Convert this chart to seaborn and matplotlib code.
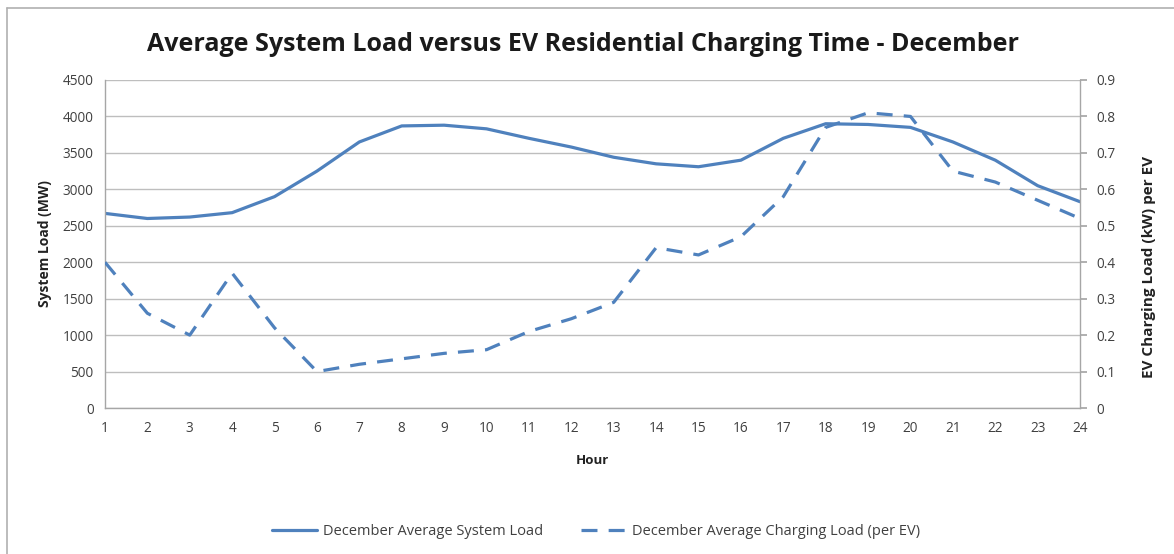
import matplotlib
matplotlib.use("Agg")
import matplotlib.pyplot as plt
from matplotlib.lines import Line2D
import seaborn as sns
import pandas as pd

hours = list(range(1, 25))
system_load_mw = [2670, 2600, 2620, 2680, 2900, 3250, 3650, 3870, 3880, 3830,
                  3700, 3580, 3440, 3350, 3310, 3400, 3700, 3900, 3890, 3850,
                  3650, 3400, 3050, 2830]
charging_kw = [0.40, 0.26, 0.20, 0.37, 0.22, 0.10, 0.12, 0.135, 0.15, 0.16,
               0.21, 0.245, 0.29, 0.44, 0.42, 0.47, 0.58, 0.77, 0.81, 0.80,
               0.65, 0.62, 0.57, 0.52]
left_ticks = [0, 500, 1000, 1500, 2000, 2500, 3000, 3500, 4000, 4500]
right_ticks = [0, 0.1, 0.2, 0.3, 0.4, 0.5, 0.6, 0.7, 0.8, 0.9]
right_labels = ["0", "0.1", "0.2", "0.3", "0.4", "0.5", "0.6", "0.7", "0.8", "0.9"]

label_system = "December Average System Load"
label_charging = "December Average Charging Load (per EV)"

sns.set_theme(style="white")
plt.rcParams["font.family"] = ["Open Sans", "DejaVu Sans"]

blue = "#4F81BD"
grid_grey = "#BEBEBE"
text_grey = "#404040"

df = pd.DataFrame({"hour": hours, "load": system_load_mw, "ev": charging_kw})

fig = plt.figure(figsize=(11.74, 5.54), dpi=100)
ax = fig.add_axes([0.0894, 0.2635, 0.8306, 0.5921])
ax2 = ax.twinx()

sns.lineplot(data=df, x="hour", y="load", ax=ax, color=blue, linewidth=2.3,
             legend=False)
sns.lineplot(data=df, x="hour", y="ev", ax=ax2, color=blue, linewidth=2.3,
             legend=False)
ax2.lines[0].set_dashes([5, 3.5])

ax.set_xlim(1, 24)
ax.set_ylim(0, 4500)
ax2.set_ylim(0, 0.9)
ax.set_xticks(hours)
ax.set_yticks(left_ticks)
ax2.set_yticks(right_ticks)
ax2.set_yticklabels(right_labels)

ax.grid(axis="y", color=grid_grey, linewidth=1.0)
ax.grid(axis="x", visible=False)
ax2.grid(False)
ax.set_axisbelow(True)

for a in (ax, ax2):
    a.spines["top"].set_visible(False)
    for side in ("left", "right", "bottom"):
        a.spines[side].set_color("#A6A6A6")
        a.spines[side].set_linewidth(1.0)
ax.spines["right"].set_visible(False)
ax2.spines["left"].set_visible(False)
ax2.spines["bottom"].set_visible(False)

ax.tick_params(axis="both", labelsize=9.8, colors=text_grey, length=0, pad=8)
ax.tick_params(axis="x", pad=9)
ax2.tick_params(axis="y", labelsize=9.8, colors=text_grey, length=5,
                direction="out", color="#A6A6A6", pad=7)

ax.set_xlabel("Hour", fontsize=9.5, fontweight="bold", color="#222222",
              labelpad=13)
ax.set_ylabel("System Load (MW)", fontsize=10, fontweight="bold",
              color="#222222", labelpad=8)
ax2.set_ylabel("EV Charging Load (kW) per EV", fontsize=11,
               fontweight="bold", color="#222222")
ax2.yaxis.set_label_coords(1.064, 0.43)

fig.suptitle("Average System Load versus EV Residential Charging Time - December",
             fontsize=18, fontweight="bold", color="#1a1a1a", x=0.497, y=0.942)

handles = [Line2D([0], [0], color=blue, linewidth=2.3),
           Line2D([0], [0], color=blue, linewidth=2.3, dashes=[5, 3.5])]
fig.legend(handles, [label_system, label_charging], loc="center",
           bbox_to_anchor=(0.508, 0.041), ncol=2, frameon=False, fontsize=10.5,
           handlelength=3.1, handletextpad=0.4, columnspacing=2.6,
           labelcolor=text_grey)

# chart frame edges
fig.add_artist(Line2D([0.006, 0.006], [0.0, 0.986], color="#B0B0B0",
                      linewidth=1.2, transform=fig.transFigure))
fig.add_artist(Line2D([0.006, 1.0], [0.986, 0.986], color="#B0B0B0",
                      linewidth=1.2, transform=fig.transFigure))

fig.savefig("out.png", dpi=100, facecolor="white")
